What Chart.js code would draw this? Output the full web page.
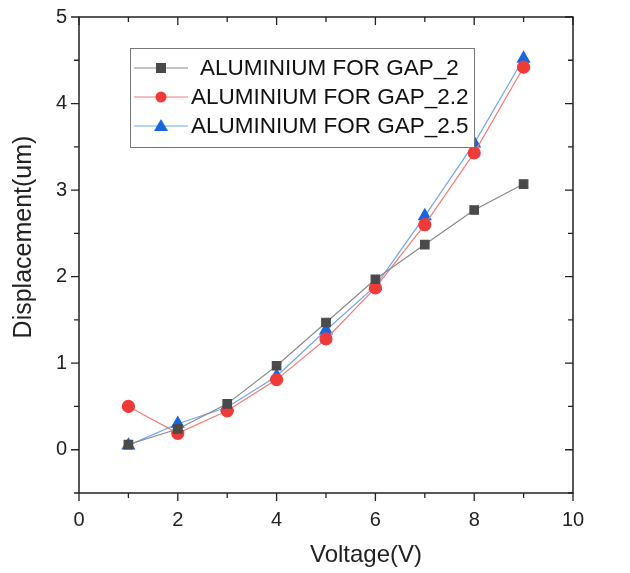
<!DOCTYPE html>
<html>
<head>
<meta charset="utf-8">
<script src="https://cdn.jsdelivr.net/npm/chart.js@4/dist/chart.umd.min.js"></script>
<style>
  html, body { margin: 0; padding: 0; background: #fff; }
  #wrap { width: 630px; height: 573px; }
</style>
</head>
<body>
<div id="wrap"><canvas id="disp"></canvas></div>
<script>
var voltage = [1, 2, 3, 4, 5, 6, 7, 8, 9];
var gap2   = [0.06, 0.24, 0.53, 0.97, 1.47, 1.97, 2.37, 2.77, 3.07];
var gap22  = [0.50, 0.19, 0.45, 0.81, 1.28, 1.87, 2.60, 3.43, 4.42];
var gap25  = [0.05, 0.30, 0.49, 0.85, 1.38, 1.89, 2.70, 3.54, 4.52];
var seriesNames = ["ALUMINIUM FOR GAP_2", "ALUMINIUM FOR GAP_2.2", "ALUMINIUM FOR GAP_2.5"];
var xTicks = [0, 2, 4, 6, 8, 10];
var yTicks = [0, 1, 2, 3, 4, 5];
var xTitle = "Voltage(V)";
var yTitle = "Displacement(um)";

var FONT = "'Liberation Sans', Arial, sans-serif";

function pts(ys) {
  return voltage.map(function (v, i) { return {x: v, y: ys[i]}; });
}

// frame, minor/major ticks on all four sides, and the axis titles
var framePlugin = {
  id: "frame",
  afterDraw: function (chart) {
    var ctx = chart.ctx, a = chart.chartArea;
    var xs = chart.scales.x, ys = chart.scales.y;
    ctx.save();
    ctx.strokeStyle = "#222";
    ctx.lineWidth = 1.5;
    ctx.strokeRect(a.left, a.top, a.right - a.left, a.bottom - a.top);
    ctx.lineWidth = 1.3;
    for (var v = 0; v <= 10; v += 1) {
      var px = xs.getPixelForValue(v);
      var len = (v % 2 === 0) ? 8 : 5;
      ctx.beginPath();
      ctx.moveTo(px, a.bottom); ctx.lineTo(px, a.bottom + len);
      ctx.moveTo(px, a.top); ctx.lineTo(px, a.top + len);
      ctx.stroke();
    }
    for (var w = -0.5; w <= 5.001; w += 0.5) {
      var py = ys.getPixelForValue(w);
      var l2 = (Math.abs(w - Math.round(w)) < 0.01) ? 8 : 5;
      ctx.beginPath();
      ctx.moveTo(a.left, py); ctx.lineTo(a.left - l2, py);
      ctx.moveTo(a.right, py); ctx.lineTo(a.right - l2, py);
      ctx.stroke();
    }
    // titles (slightly off-centre in the original)
    ctx.fillStyle = "#222";
    ctx.textAlign = "center";
    ctx.textBaseline = "middle";
    ctx.font = "24px " + FONT;
    ctx.fillText(xTitle, 366, 555);
    ctx.translate(24, 237);
    ctx.rotate(-Math.PI / 2);
    ctx.font = "25px " + FONT;
    ctx.fillText(yTitle, 0, 0);
    ctx.restore();
  }
};

// boxed legend inside the plot
var boxLegend = {
  id: "boxLegend",
  afterDatasetsDraw: function (chart) {
    var ctx = chart.ctx;
    var x0 = 130, y0 = 48, w = 344, h = 99;
    ctx.save();
    ctx.fillStyle = "#fff";
    ctx.fillRect(x0, y0, w, h);
    ctx.strokeStyle = "#777";
    ctx.lineWidth = 1;
    ctx.strokeRect(x0 + 0.5, y0 + 0.5, w, h);
    ctx.font = "22.5px " + FONT;
    ctx.textBaseline = "middle";
    chart.data.datasets.forEach(function (ds, i) {
      var cy = y0 + 20 + i * 29;
      var lx0 = x0 + 4, lx1 = x0 + 58;
      ctx.strokeStyle = ds.borderColor;
      ctx.lineWidth = 1;
      ctx.beginPath(); ctx.moveTo(lx0, cy); ctx.lineTo(lx1, cy); ctx.stroke();
      ctx.fillStyle = ds.pointBackgroundColor;
      var mx = (lx0 + lx1) / 2;
      ctx.beginPath();
      if (ds.pointStyle === "rect") {
        ctx.rect(mx - 5, cy - 5, 10, 10);
      } else if (ds.pointStyle === "triangle") {
        ctx.moveTo(mx, cy - 7); ctx.lineTo(mx + 7, cy + 5); ctx.lineTo(mx - 7, cy + 5); ctx.closePath();
      } else {
        ctx.arc(mx, cy, 5.5, 0, Math.PI * 2);
      }
      ctx.fill();
      ctx.fillStyle = "#111";
      ctx.fillText(ds.label, i === 0 ? x0 + 70 : x0 + 61, cy + 1);
    });
    ctx.restore();
  }
};

new Chart("disp", {
  type: "line",
  data: {
    datasets: [
      {
        label: seriesNames[0], data: pts(gap2),
        borderColor: "#8a8a8a", borderWidth: 1.2,
        pointStyle: "rect", pointRadius: 6,
        pointBackgroundColor: "#4a4a4a", pointBorderColor: "#4a4a4a"
      },
      {
        label: seriesNames[1], data: pts(gap22),
        borderColor: "#f57a7a", borderWidth: 1.2,
        pointStyle: "circle", pointRadius: 6,
        pointBackgroundColor: "#ef3a3a", pointBorderColor: "#ef3a3a"
      },
      {
        label: seriesNames[2], data: pts(gap25),
        borderColor: "#6fa6ee", borderWidth: 1.2,
        pointStyle: "triangle", pointRadius: 7,
        pointBackgroundColor: "#1766e0", pointBorderColor: "#1766e0"
      }
    ]
  },
  options: {
    responsive: true,
    maintainAspectRatio: false,
    animation: false,
    layout: {padding: {top: 17, right: 57, left: 0, bottom: 0}},
    plugins: {legend: {display: false}, tooltip: {enabled: false}},
    elements: {line: {tension: 0}},
    scales: {
      x: {
        type: "linear", min: 0, max: 10,
        grid: {display: false}, border: {display: false},
        afterBuildTicks: function (s) { s.ticks = xTicks.map(function (v) { return {value: v}; }); },
        ticks: {color: "#222", font: {size: 20, family: FONT}, padding: 7, maxRotation: 0},
        afterFit: function (s) { s.height = 80; }
      },
      y: {
        type: "linear", min: -0.5, max: 5,
        grid: {display: false}, border: {display: false},
        afterBuildTicks: function (s) { s.ticks = yTicks.map(function (v) { return {value: v}; }); },
        ticks: {color: "#222", font: {size: 20, family: FONT}, padding: 4},
        afterFit: function (s) { s.width = 79; }
      }
    }
  },
  plugins: [framePlugin, boxLegend]
});
</script>
</body>
</html>
